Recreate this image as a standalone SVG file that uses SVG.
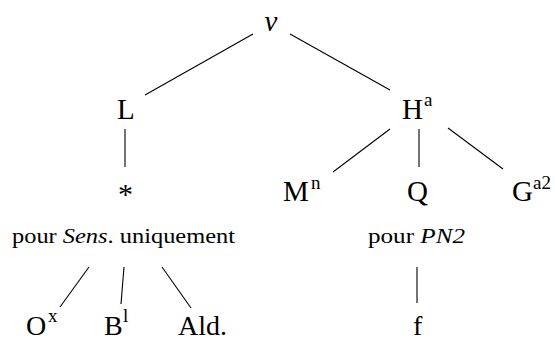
<svg xmlns="http://www.w3.org/2000/svg" width="555" height="342" viewBox="0 0 555 342">
<style>
  text { font-family: 'Liberation Serif', 'DejaVu Serif', 'Times New Roman', serif; fill: #000; }
  .big { font-size: 29px; }
  .low { font-size: 28px; }
  .sup { font-size: 19px; }
  .lab { font-size: 20px; }
  .it { font-style: italic; }
  .edge { stroke: #000; stroke-width: 1.1; fill: none; }
</style>
<rect width="555" height="342" fill="#fff"/>
<g id="connectors">
  <line class="edge" x1="253" y1="34" x2="145" y2="95"/>
  <line class="edge" x1="290" y1="34" x2="390" y2="90"/>
  <line class="edge" x1="125" y1="129" x2="125" y2="167"/>
  <line class="edge" x1="390" y1="129" x2="333" y2="172"/>
  <line class="edge" x1="419" y1="129" x2="419" y2="167"/>
  <line class="edge" x1="448" y1="128" x2="503" y2="169"/>
  <line class="edge" x1="89" y1="267" x2="60" y2="307"/>
  <line class="edge" x1="124" y1="267" x2="121" y2="304"/>
  <line class="edge" x1="162" y1="267" x2="191" y2="308"/>
  <line class="edge" x1="417" y1="267" x2="417" y2="303"/>
</g>
<g id="nu"><text class="big it" x="271" y="31" text-anchor="middle">ν</text></g>
<g id="L"><text class="big" x="117" y="119">L</text></g>
<g id="Ha"><text class="big" x="402" y="119">H</text><text class="sup" x="424" y="106">a</text></g>
<g id="star"><text class="big" x="125.5" y="204" text-anchor="middle" style="font-size:30px">*</text></g>
<g id="Mn"><text class="big" x="283" y="201">M</text><text class="sup" x="311" y="189">n</text></g>
<g id="Q"><text class="big" x="407" y="201">Q</text></g>
<g id="Ga2"><text class="big" x="512" y="201">G</text><text class="sup" x="533" y="189">a2</text></g>
<g id="label1"><text class="lab" x="12" y="243" textLength="223" lengthAdjust="spacingAndGlyphs">pour <tspan class="it">Sens</tspan>. uniquement</text></g>
<g id="label2"><text class="lab" x="368" y="243" textLength="97" lengthAdjust="spacingAndGlyphs">pour <tspan class="it">PN2</tspan></text></g>
<g id="Ox"><text class="low" x="26" y="335">O</text><text class="sup" x="48" y="322">x</text></g>
<g id="Bl"><text class="low" x="104" y="335">B</text><text class="sup" x="123" y="322">l</text></g>
<g id="Ald"><text class="low" x="178" y="335">Ald.</text></g>
<g id="f"><text class="low" x="413" y="335">f</text></g>
</svg>
